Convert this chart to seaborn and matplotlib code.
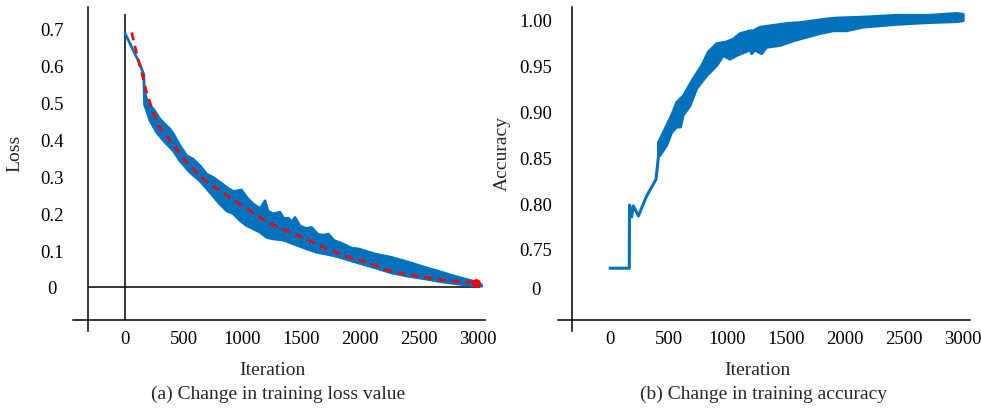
import matplotlib.pyplot as plt
import seaborn as sns

# ---- data ----
# (a) loss: smooth start, then noisy band (upper / lower edges), red fitted trend
loss_start_iter = [0, 40, 71, 113, 142, 160, 166, 170]
loss_start_val = [0.686, 0.660, 0.639, 0.612, 0.589, 0.574, 0.500, 0.490]

loss_up_iter = [170, 198, 241, 297, 340, 382, 411, 467, 524, 581, 637, 694, 750, 807, 870, 921,
                990, 1040, 1091, 1150, 1190, 1215, 1260, 1317, 1350, 1388, 1420, 1445, 1487,
                1540, 1586, 1640, 1690, 1728, 1780, 1841, 1926, 1983, 2125, 2266, 2408, 2550,
                2691, 2833, 2946, 3031]
loss_up_val = [0.522, 0.495, 0.481, 0.454, 0.440, 0.427, 0.414, 0.382, 0.355, 0.345, 0.328,
               0.305, 0.296, 0.283, 0.268, 0.258, 0.262, 0.240, 0.224, 0.212, 0.233, 0.205,
               0.198, 0.202, 0.185, 0.186, 0.176, 0.188, 0.165, 0.158, 0.161, 0.142, 0.140,
               0.143, 0.125, 0.118, 0.105, 0.103, 0.089, 0.080, 0.067, 0.053, 0.040, 0.026,
               0.017, 0.006]

loss_lo_iter = [170, 212, 269, 326, 411, 467, 552, 637, 722, 807, 864, 921, 977, 1034, 1148,
                1204, 1260, 1345, 1487, 1544, 1629, 1770, 1827, 1983, 2125, 2266, 2408, 2550,
                2691, 2833, 2946, 3031]
loss_lo_val = [0.490, 0.450, 0.418, 0.396, 0.368, 0.341, 0.310, 0.287, 0.256, 0.224, 0.206,
               0.198, 0.180, 0.166, 0.148, 0.134, 0.130, 0.127, 0.110, 0.103, 0.094, 0.085,
               0.080, 0.065, 0.052, 0.038, 0.029, 0.022, 0.014, 0.008, 0.004, 0.002]

trend_iter = [57, 100, 156, 184, 212, 255, 283, 340, 382, 439, 482, 552, 609, 666, 722, 807,
              892, 977, 1020, 1162, 1303, 1431, 1544, 1671, 1799, 1941, 2068, 2210, 2351,
              2493, 2634, 2776, 2918, 2985]
trend_val = [0.688, 0.630, 0.562, 0.526, 0.499, 0.459, 0.436, 0.414, 0.396, 0.373, 0.352,
             0.328, 0.310, 0.292, 0.278, 0.260, 0.242, 0.224, 0.215, 0.184, 0.161, 0.143,
             0.130, 0.109, 0.094, 0.076, 0.067, 0.047, 0.037, 0.029, 0.022, 0.016, 0.013,
             0.012]
end_point = (2985, 0.012)

# (b) accuracy: start line, then noisy band
acc_start_iter = [0, 164, 166, 184, 198, 241, 312, 391, 411, 419]
acc_start_val = [0.729, 0.729, 0.798, 0.785, 0.797, 0.786, 0.808, 0.826, 0.850, 0.865]

acc_up_iter = [411, 453, 524, 567, 623, 708, 779, 836, 907, 992, 1048, 1105, 1190, 1218, 1275,
               1388, 1501, 1615, 1728, 1841, 1927, 2153, 2436, 2720, 2946, 3003]
acc_up_val = [0.866, 0.877, 0.896, 0.910, 0.917, 0.936, 0.950, 0.965, 0.974, 0.976, 0.979,
              0.985, 0.988, 0.988, 0.992, 0.994, 0.996, 0.997, 0.999, 1.001, 1.002, 1.003,
              1.005, 1.005, 1.007, 1.006]

acc_lo_iter = [411, 425, 482, 524, 567, 600, 623, 680, 737, 822, 907, 963, 1020, 1077, 1190,
               1204, 1230, 1289, 1331, 1445, 1558, 1671, 1785, 1898, 2011, 2153, 2436, 2720,
               2946, 3003]
acc_lo_val = [0.858, 0.852, 0.863, 0.877, 0.883, 0.883, 0.896, 0.906, 0.925, 0.939, 0.950,
              0.961, 0.957, 0.961, 0.967, 0.963, 0.967, 0.963, 0.970, 0.972, 0.977, 0.981,
              0.985, 0.988, 0.988, 0.992, 0.995, 0.997, 0.998, 0.999]

x_ticks = [0, 500, 1000, 1500, 2000, 2500, 3000]
loss_ticks = [0, 0.1, 0.2, 0.3, 0.4, 0.5, 0.6, 0.7]
loss_labels = ['0', '0.1', '0.2', '0.3', '0.4', '0.5', '0.6', '0.7']
acc_ticks = [0.7085, 0.75, 0.80, 0.85, 0.90, 0.95, 1.00]
acc_labels = ['0', '0.75', '0.80', '0.85', '0.90', '0.95', '1.00']

BLUE = '#0072BD'

sns.set_theme(style='white')
plt.rcParams['font.family'] = ['Liberation Serif', 'DejaVu Serif']

W, H = 981, 410
fig = plt.figure(figsize=(W / 100, H / 100), dpi=100)


def axes_at(x0, x1, y0, y1):
    # pixel box -> figure fraction
    return fig.add_axes([x0 / W, 1 - y1 / H, (x1 - x0) / W, (y1 - y0) / H])


def style_axes(ax, left_at, bottom_at):
    ax.set_xlim(-442, 3060)
    for s in ['top', 'right']:
        ax.spines[s].set_visible(False)
    ax.spines['left'].set_position(('data', left_at))
    ax.spines['bottom'].set_position(('data', bottom_at))
    for s in ['left', 'bottom']:
        ax.spines[s].set_color('black')
        ax.spines[s].set_linewidth(1.1)
    ax.tick_params(direction='in', length=5.5, width=1.1, colors='black', labelsize=13.5)
    ax.tick_params(axis='x', pad=7)
    ax.tick_params(axis='y', pad=26)
    ax.set_xticks(x_ticks, [str(t) for t in x_ticks])
    ax.set_facecolor('white')


def band(ax, xu, yu, xl, yl):
    ax.fill(list(xu) + list(xl)[::-1], list(yu) + list(yl)[::-1],
            color=BLUE, lw=2.0, ec=BLUE, joinstyle='round', zorder=3)


# ---- (a) loss ----
ax1 = axes_at(73, 485, 8, 332)
ax1.set_ylim(-0.119, 0.757)
style_axes(ax1, -314, -0.089)
ax1.set_yticks(loss_ticks, loss_labels, ha='center')
ax1.vlines(0, -0.089, 0.738, color='black', lw=1.1, zorder=2)
ax1.hlines(0, -314, 3020, color='black', lw=1.1, zorder=2)

sns.lineplot(x=loss_start_iter, y=loss_start_val, ax=ax1, color=BLUE, lw=2,
             estimator=None, sort=False, zorder=3)
band(ax1, loss_up_iter, loss_up_val, loss_lo_iter, loss_lo_val)
sns.lineplot(x=trend_iter, y=trend_val, ax=ax1, color='#FF0000', lw=1.9,
             estimator=None, sort=False, zorder=4)
ax1.lines[-1].set_dashes((3, 2.2))
ax1.scatter([end_point[0]], [end_point[1]], s=40, color='#FF0000', zorder=5, lw=0)

ax1.set_xlabel('Iteration', fontsize=14)
ax1.xaxis.label.set_va('center')
ax1.xaxis.set_label_coords(0.483, -0.120)
ax1.set_ylabel('Loss', fontsize=14)
ax1.yaxis.label.set_va('center')
ax1.yaxis.set_label_coords(-0.141, 0.552)
ax1.text(0.498, -0.191, '(a) Change in training loss value', transform=ax1.transAxes,
         ha='center', va='center', fontsize=14)

# ---- (b) accuracy ----
ax2 = axes_at(558, 970, 8, 332)
ax2.set_ylim(0.6605, 1.014)
style_axes(ax2, -323, 0.6725)
ax2.set_yticks(acc_ticks, acc_labels, ha='center')
ax2.xaxis.get_major_ticks()[0].tick1line.set_visible(False)

sns.lineplot(x=acc_start_iter, y=acc_start_val, ax=ax2, color=BLUE, lw=2.2,
             estimator=None, sort=False, zorder=3)
band(ax2, acc_up_iter, acc_up_val, acc_lo_iter, acc_lo_val)

ax2.set_xlabel('Iteration', fontsize=14)
ax2.xaxis.label.set_va('center')
ax2.xaxis.set_label_coords(0.485, -0.120)
ax2.set_ylabel('Accuracy', fontsize=14)
ax2.yaxis.label.set_va('center')
ax2.yaxis.set_label_coords(-0.136, 0.552)
ax2.text(0.498, -0.191, '(b) Change in training accuracy', transform=ax2.transAxes,
         ha='center', va='center', fontsize=14)

fig.savefig('out.png', dpi=100)
